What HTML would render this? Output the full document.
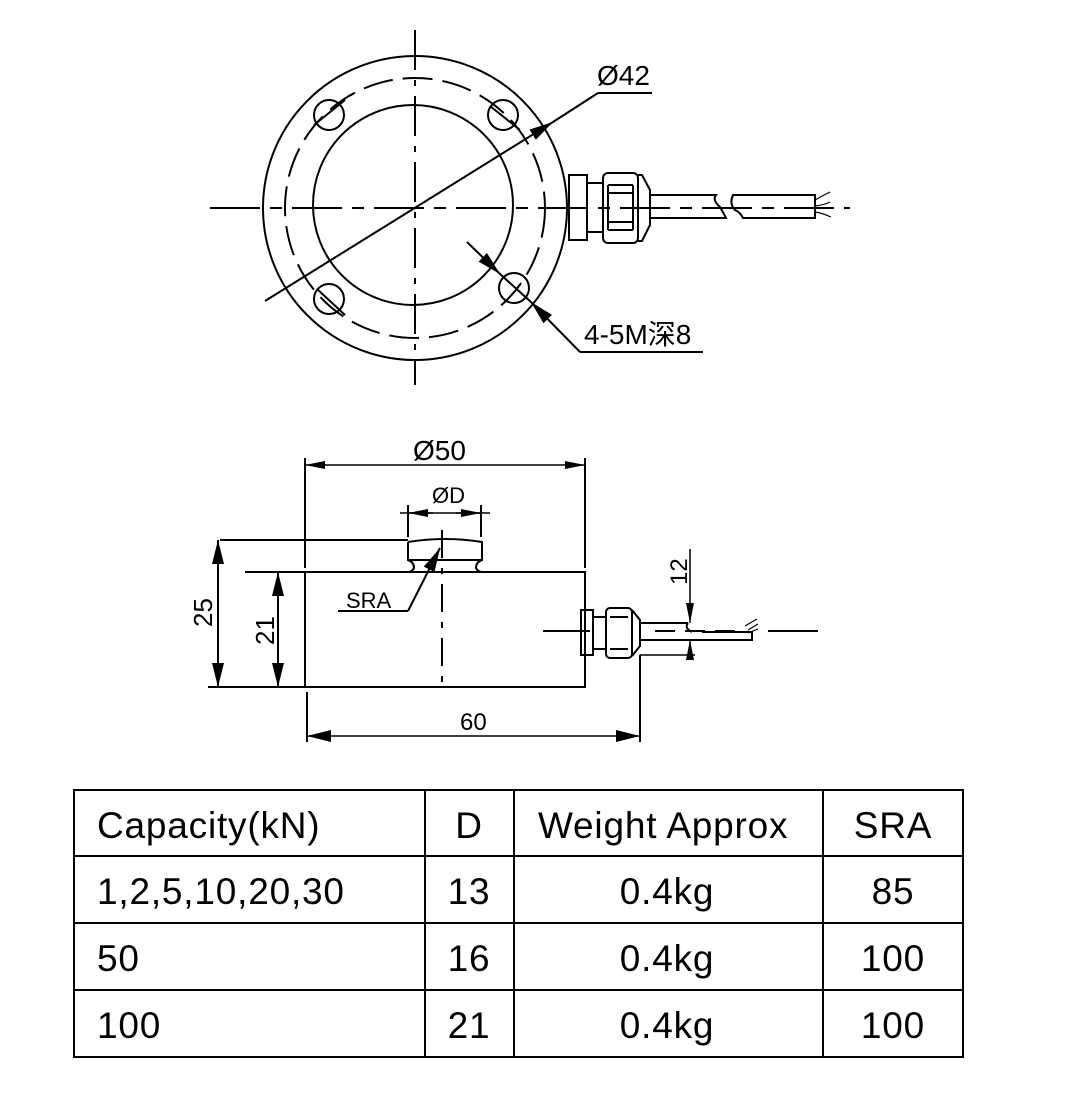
<!DOCTYPE html>
<html><head><meta charset="utf-8"><style>
html,body{margin:0;padding:0;background:#fff;}
svg{display:block;}
text{font-family:"Liberation Sans","Noto Sans CJK SC",sans-serif;fill:#000;}
</style></head><body>
<svg width="1071" height="1100" viewBox="0 0 1071 1100" xmlns="http://www.w3.org/2000/svg">
<defs>
<marker id="ar" viewBox="0 0 20 8" refX="20" refY="4" markerWidth="20" markerHeight="8" markerUnits="userSpaceOnUse" orient="auto-start-reverse"><path d="M0,0 L20,4 L0,8 Z" fill="#000"/></marker>
<marker id="ab" viewBox="0 0 24 12" refX="24" refY="6" markerWidth="24" markerHeight="12" markerUnits="userSpaceOnUse" orient="auto-start-reverse"><path d="M0,0 L24,6 L0,12 Z" fill="#000"/></marker>
</defs>
<g fill="none" stroke="#000" stroke-width="2">
<!-- TOP VIEW -->
<circle cx="415" cy="208" r="152"/>
<circle cx="415" cy="208" r="130" stroke-dasharray="30,10"/>
<circle cx="413" cy="205" r="100"/>
<circle cx="329" cy="115" r="15"/>
<circle cx="503" cy="115" r="15"/>
<circle cx="329" cy="299" r="15"/>
<circle cx="514" cy="288" r="15"/>
<line x1="415" y1="30" x2="415" y2="385" stroke-dasharray="40,10,6,10"/>
<line x1="210" y1="208" x2="850" y2="208" stroke-dasharray="50,10,12,10"/>
<line x1="314" y1="125" x2="345" y2="100"/>
<line x1="317" y1="289" x2="345" y2="315"/>
<line x1="490" y1="106" x2="520" y2="130"/>
<line x1="265" y1="301" x2="553" y2="122" marker-end="url(#ab)"/>
<line x1="598" y1="93" x2="553" y2="122"/>
<line x1="598" y1="93" x2="652" y2="93"/>
<line x1="467" y1="242" x2="500" y2="274" marker-end="url(#ab)"/>
<line x1="500" y1="274" x2="531" y2="302"/>
<line x1="580" y1="352" x2="531" y2="302" marker-end="url(#ab)"/>
<line x1="580" y1="352" x2="703" y2="352"/>
<!-- connector top -->
<rect x="569" y="175" width="18" height="65"/>
<rect x="587" y="183" width="16" height="49"/>
<rect x="603" y="173" width="35" height="70" rx="5"/>
<line x1="608" y1="185" x2="633" y2="185"/><line x1="608" y1="193" x2="633" y2="193"/>
<line x1="608" y1="222" x2="633" y2="222"/><line x1="608" y1="230" x2="633" y2="230"/>
<line x1="608" y1="185" x2="608" y2="230"/><line x1="633" y1="185" x2="633" y2="230"/>
<path d="M638,175 L642,175 L650,190 L650,225 L642,241 L638,241"/>
<path d="M650,195 L716,195 Q712,200 720,207 Q724,214 726,218 L650,218"/>
<path d="M741,195 L815,195 L815,218 L743,218 Q740,212 735,210 Q729,204 733,195 Z"/>
<path d="M815,200 Q822,196 830,192 M815,206 Q824,205 830,202 M815,212 Q822,213 831,217" stroke-width="1.2"/>
<!-- SIDE VIEW -->
<rect x="305" y="572" width="280" height="115"/>
<path d="M408,542 Q445,536 482,542 L482,560 Q476,562 476,568 Q478,572 482,572 M408,542 L408,560 Q414,562 414,568 Q412,572 408,572"/>
<line x1="408" y1="560" x2="482" y2="560"/>
<line x1="442" y1="530" x2="442" y2="692" stroke-dasharray="28,10,6,10"/>
<line x1="220" y1="540" x2="408" y2="540"/>
<line x1="245" y1="572" x2="305" y2="572"/>
<line x1="208" y1="687" x2="305" y2="687"/>
<line x1="305" y1="458" x2="305" y2="568"/>
<line x1="585" y1="458" x2="585" y2="568"/>
<line x1="305" y1="465" x2="585" y2="465" marker-start="url(#ar)" marker-end="url(#ar)" stroke-width="1.5"/>
<line x1="408" y1="505" x2="408" y2="537"/><line x1="481" y1="505" x2="481" y2="537"/>
<line x1="400" y1="513" x2="490" y2="513" stroke-width="1.5"/>
<line x1="433" y1="513" x2="408" y2="513" marker-end="url(#ar)" stroke-width="1.5"/>
<line x1="456" y1="513" x2="481" y2="513" marker-end="url(#ar)" stroke-width="1.5"/>
<line x1="218" y1="540" x2="218" y2="687" marker-start="url(#ab)" marker-end="url(#ab)"/>
<line x1="278" y1="572" x2="278" y2="687" marker-start="url(#ab)" marker-end="url(#ab)"/>
<line x1="338" y1="611" x2="408" y2="611"/>
<line x1="408" y1="611" x2="440" y2="548" marker-end="url(#ab)"/>
<line x1="307" y1="692" x2="307" y2="742"/>
<line x1="640" y1="655" x2="640" y2="742"/>
<line x1="307" y1="736" x2="640" y2="736" marker-start="url(#ab)" marker-end="url(#ab)" stroke-width="1.5"/>
<!-- connector side -->
<rect x="581" y="610" width="12" height="45"/>
<rect x="593" y="617" width="13" height="32"/>
<rect x="606" y="608" width="26" height="50" rx="4"/>
<line x1="610" y1="617" x2="628" y2="617"/><line x1="610" y1="649" x2="628" y2="649"/>
<path d="M632,610 L640,620 L640,646 L632,656"/>
<path d="M640,623 L688,623 M640,640 L700,640 M688,623 Q684,628 692,632 M702,632 L752,632 L752,640 L700,640"/>
<line x1="690" y1="549" x2="690" y2="623" marker-end="url(#ar)" stroke-width="1.5"/>
<line x1="690" y1="657" x2="690" y2="640" marker-end="url(#ar)" stroke-width="1.5"/>
<line x1="640" y1="655" x2="695" y2="655" stroke-width="1.5"/>
<path d="M745,626 L757,619 M748,630 L758,624 M748,633 L758,629" stroke-width="1.2"/>
<line x1="543" y1="631" x2="590" y2="631"/>
<line x1="655" y1="631" x2="740" y2="631" stroke-dasharray="20,10"/>
<line x1="768" y1="631" x2="818" y2="631"/>
<!-- TABLE -->
<rect x="74" y="790" width="889" height="267"/>
<line x1="74" y1="856" x2="963" y2="856"/>
<line x1="74" y1="923" x2="963" y2="923"/>
<line x1="74" y1="990" x2="963" y2="990"/>
<line x1="425" y1="790" x2="425" y2="1057"/>
<line x1="514" y1="790" x2="514" y2="1057"/>
<line x1="823" y1="790" x2="823" y2="1057"/>
</g>
<g font-size="28">
<text x="597" y="85">Ø42</text>
<text x="584" y="344">4-5M深8</text>
<text x="413" y="460">Ø50</text>
<text x="432" y="503" font-size="22">ØD</text>
<text x="346" y="608" font-size="22">SRA</text>
<text x="460" y="730" font-size="24">60</text>
<text transform="translate(212,627) rotate(-90)" font-size="26">25</text>
<text transform="translate(274,645) rotate(-90)" font-size="26">21</text>
<text transform="translate(687,585) rotate(-90)" font-size="24">12</text>
</g>
<g font-size="37" letter-spacing="0.8">
<text x="97" y="838">Capacity(kN)</text>
<text x="469" y="838" text-anchor="middle">D</text>
<text x="538" y="838">Weight Approx</text>
<text x="893" y="838" text-anchor="middle">SRA</text>
<text x="97" y="904">1,2,5,10,20,30</text>
<text x="469" y="904" text-anchor="middle">13</text>
<text x="667" y="904" text-anchor="middle">0.4kg</text>
<text x="893" y="904" text-anchor="middle">85</text>
<text x="97" y="971">50</text>
<text x="469" y="971" text-anchor="middle">16</text>
<text x="667" y="971" text-anchor="middle">0.4kg</text>
<text x="893" y="971" text-anchor="middle">100</text>
<text x="97" y="1038">100</text>
<text x="469" y="1038" text-anchor="middle">21</text>
<text x="667" y="1038" text-anchor="middle">0.4kg</text>
<text x="893" y="1038" text-anchor="middle">100</text>
</g>
</svg>
</body></html>
